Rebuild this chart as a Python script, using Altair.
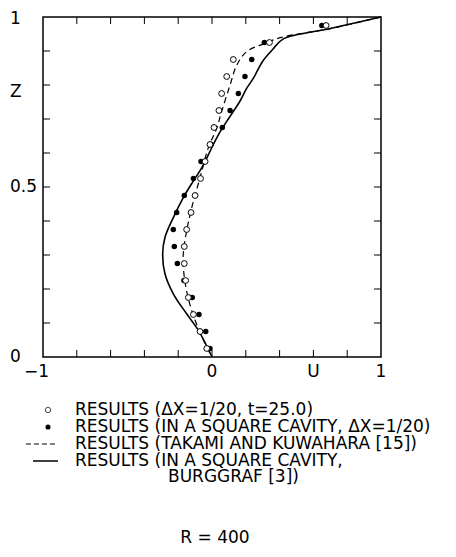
import altair as alt
import pandas as pd

# Sample heights (cell centres, dX = 1/20)
z_pts = [0.025, 0.075, 0.125, 0.175, 0.225, 0.275, 0.325, 0.375, 0.425, 0.475,
         0.525, 0.575, 0.625, 0.675, 0.725, 0.775, 0.825, 0.875, 0.925, 0.975]
# Open circles: results (dX=1/20, t=25.0)
open_u = [-0.031, -0.071, -0.110, -0.140, -0.156, -0.164, -0.164, -0.150, -0.124, -0.100,
          -0.068, -0.041, -0.012, 0.012, 0.041, 0.057, 0.087, 0.126, 0.340, 0.675]
# Filled circles: results in a square cavity
filled_u = [-0.012, -0.037, -0.077, -0.117, -0.166, -0.205, -0.223, -0.229, -0.209, -0.164,
            -0.110, -0.065, -0.005, 0.061, 0.107, 0.156, 0.195, 0.235, 0.310, 0.650]
# Solid line: Burggraf
solid_u = [1.0, 0.70, 0.42, 0.36, 0.30, 0.245, 0.205, 0.166, 0.126, 0.087, 0.045, 0.008,
           -0.061, -0.11, -0.17, -0.229, -0.278, -0.292, -0.278, -0.229, -0.15, -0.081, 0.0]
solid_z = [1.0, 0.966, 0.935, 0.905, 0.87, 0.82, 0.79, 0.753, 0.722, 0.693, 0.66, 0.625,
           0.556, 0.518, 0.469, 0.41, 0.352, 0.303, 0.244, 0.186, 0.127, 0.079, 0.0]
# Dashed line: Takami and Kuwahara
dashed_u = [1.0, 0.70, 0.41, 0.31, 0.205, 0.146, 0.107, 0.057, 0.028, -0.022, -0.071,
            -0.12, -0.15, -0.17, -0.166, -0.14, -0.10, -0.051, 0.0]
dashed_z = [1.0, 0.966, 0.94, 0.922, 0.898, 0.858, 0.80, 0.722, 0.673, 0.615, 0.527,
            0.439, 0.371, 0.303, 0.244, 0.172, 0.108, 0.05, 0.0]

x_minor = [-0.8, -0.6, -0.4, -0.2, 0.0, 0.2, 0.4, 0.6, 0.8]
z_minor = [0.1, 0.2, 0.3, 0.4, 0.5, 0.6, 0.7, 0.8, 0.9]
x_label_vals = [0, 0.6, 1]
x_label_text = ["0", "U", "1"]
x_neg_val = [-1]
x_neg_text = ["−1"]
z_label_vals = [0.78, 0.5, 0]
z_label_text = ["Z", "0.5", "0"]
z_top_val = [1]
z_top_text = ["1"]

legend_texts = [
    "RESULTS (ΔX=1/20, t=25.0)",
    "RESULTS (IN A SQUARE CAVITY, ΔX=1/20)",
    "RESULTS (TAKAMI AND KUWAHARA [15])",
    "RESULTS (IN A SQUARE CAVITY,",
    "BURGGRAF [3])",
]
footer = "R = 400"

W, H = 338, 340
PT = 9
FONT = "DejaVu Sans"
FS = 17

xs = alt.Scale(domain=[-1, 1], nice=False, zero=False)
ys = alt.Scale(domain=[0, 1], nice=False, zero=False)

solid_df = pd.DataFrame({"u": solid_u, "z": solid_z, "i": range(len(solid_u))})
dashed_df = pd.DataFrame({"u": dashed_u, "z": dashed_z, "i": range(len(dashed_u))})
open_df = pd.DataFrame({"u": open_u, "z": z_pts})
filled_df = pd.DataFrame({"u": filled_u, "z": z_pts})

solid = alt.Chart(solid_df).mark_line(color="black", strokeWidth=1.6, interpolate="catmull-rom").encode(
    x=alt.X("u:Q", scale=xs, axis=None),
    y=alt.Y("z:Q", scale=ys, axis=None),
    order="i:O")
dashed = alt.Chart(dashed_df).mark_line(color="black", strokeWidth=1.2, strokeDash=[6, 4],
                                        interpolate="catmull-rom").encode(
    x=alt.X("u:Q", scale=xs), y=alt.Y("z:Q", scale=ys), order="i:O")
opens = alt.Chart(open_df).mark_point(shape="circle", filled=False, color="black",
                                      fill="white", fillOpacity=1, strokeWidth=1, size=34, opacity=1).encode(
    x=alt.X("u:Q", scale=xs), y=alt.Y("z:Q", scale=ys))
filled = alt.Chart(filled_df).mark_circle(color="black", size=30, opacity=1).encode(
    x=alt.X("u:Q", scale=xs), y=alt.Y("z:Q", scale=ys))

xt = pd.DataFrame({"u": x_minor})
zt = pd.DataFrame({"z": z_minor})
TL = 7
tick_bottom = alt.Chart(xt).mark_rule(color="black", strokeWidth=1).encode(
    x=alt.X("u:Q", scale=xs), y=alt.value(H), y2=alt.value(H - TL))
tick_top = alt.Chart(xt).mark_rule(color="black", strokeWidth=1).encode(
    x=alt.X("u:Q", scale=xs), y=alt.value(0), y2=alt.value(TL))
tick_left = alt.Chart(zt).mark_rule(color="black", strokeWidth=1).encode(
    y=alt.Y("z:Q", scale=ys), x=alt.value(0), x2=alt.value(TL))
tick_right = alt.Chart(zt).mark_rule(color="black", strokeWidth=1).encode(
    y=alt.Y("z:Q", scale=ys), x=alt.value(W), x2=alt.value(W - TL))

# Axis labels as text marks
xlab = alt.Chart(pd.DataFrame({"u": x_label_vals, "t": x_label_text})).mark_text(
    align="center", baseline="middle", font=FONT, fontSize=FS, color="black").encode(
    x=alt.X("u:Q", scale=xs), y=alt.value(H + 15), text="t:N")
xneg = alt.Chart(pd.DataFrame({"u": x_neg_val, "t": x_neg_text})).mark_text(
    align="right", baseline="middle", font=FONT, fontSize=FS, color="black", dx=6).encode(
    x=alt.X("u:Q", scale=xs), y=alt.value(H + 15), text="t:N")
zlab = alt.Chart(pd.DataFrame({"z": z_label_vals, "t": z_label_text})).mark_text(
    align="left", baseline="middle", font=FONT, fontSize=FS, color="black").encode(
    y=alt.Y("z:Q", scale=ys), x=alt.value(-33), text="t:N")
ztop = alt.Chart(pd.DataFrame({"z": z_top_val, "t": z_top_text})).mark_text(
    align="left", baseline="middle", font=FONT, fontSize=FS, color="black", dy=2).encode(
    y=alt.Y("z:Q", scale=ys), x=alt.value(-33), text="t:N")

one = pd.DataFrame({"k": [0]})
row_y = [393, 410, 427, 444, 460]  # relative to the plot origin
TX = 32

leg_layers = []
leg_layers.append(alt.Chart(one).mark_point(shape="circle", filled=False, color="black", strokeWidth=1, size=28).encode(
    x=alt.value(5), y=alt.value(row_y[0])))
leg_layers.append(alt.Chart(one).mark_circle(color="black", size=26, opacity=1).encode(
    x=alt.value(5), y=alt.value(row_y[1])))
leg_layers.append(alt.Chart(one).mark_rule(color="black", strokeWidth=1.2, strokeDash=[5, 3]).encode(
    x=alt.value(-17), x2=alt.value(15), y=alt.value(row_y[2])))
leg_layers.append(alt.Chart(one).mark_rule(color="black", strokeWidth=1.5).encode(
    x=alt.value(-10), x2=alt.value(15), y=alt.value(row_y[3])))
for i in range(4):
    leg_layers.append(alt.Chart(one).mark_text(align="left", baseline="middle", font=FONT,
                                               fontSize=FS, color="black").encode(
        x=alt.value(TX), y=alt.value(row_y[i]), text=alt.value(legend_texts[i])))
leg_layers.append(alt.Chart(one).mark_text(align="left", baseline="middle", font=FONT,
                                           fontSize=FS, color="black").encode(
    x=alt.value(125), y=alt.value(row_y[4]), text=alt.value(legend_texts[4])))
leg_layers.append(alt.Chart(one).mark_text(align="center", baseline="middle", font=FONT,
                                           fontSize=FS, color="black").encode(
    x=alt.value(172), y=alt.value(521), text=alt.value(footer)))

chart = alt.layer(
    solid, dashed, filled, opens, tick_bottom, tick_top, tick_left, tick_right,
    xlab, xneg, zlab, ztop, *leg_layers
).properties(
    width=W, height=H,
    autosize=alt.AutoSizeParams(type="none"),
    padding={"left": 35, "top": PT, "right": 456 - 16 - 35 - W, "bottom": 557 - 16 - PT - H},
    background="white",
).configure_view(stroke="black", strokeWidth=1.5)

chart.save("out.html", embed_options={"renderer": "svg", "actions": False})
